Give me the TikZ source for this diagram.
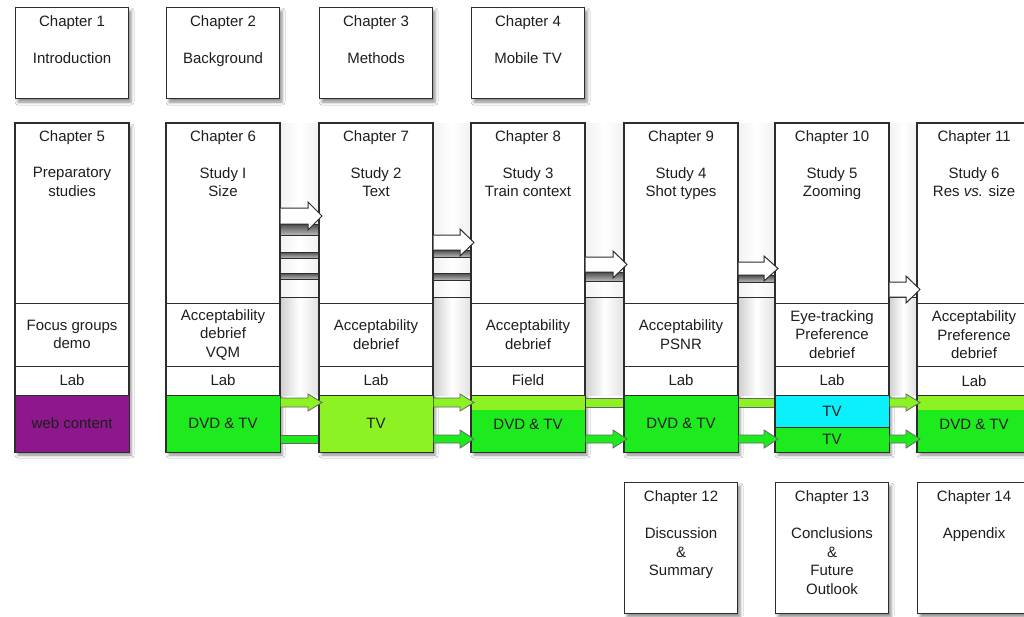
\documentclass[tikz,border=0pt]{standalone}
\usepackage{fontspec}
\setmainfont{Liberation Sans}
\usetikzlibrary{calc,shadows.blur}
\definecolor{webpurple}{RGB}{140,24,140}
\definecolor{dvdgreen}{RGB}{30,235,30}
\definecolor{tvlime}{RGB}{140,242,35}
\definecolor{tvcyan}{RGB}{10,240,252}
\definecolor{edge}{RGB}{45,45,45}
\definecolor{ink}{RGB}{30,30,30}
\tikzset{
  chapbox/.style={draw=edge, line width=1.1pt, fill=white, rectangle, inner sep=0pt, anchor=north west,
    blur shadow={shadow xshift=2.5pt, shadow yshift=-3.5pt, shadow blur radius=3pt, shadow opacity=45}},
  lbl/.style={font=\fontsize{15}{18.5}\selectfont, text=ink, align=center, inner sep=0pt},
  divline/.style={draw=edge, line width=1pt},
  boxedge/.style={draw=edge, line width=1.1pt},
  whitearrow/.style={draw=edge, line width=1pt, fill=white, line join=miter},
  greybar/.style={draw=edge, line width=0.8pt, top color=black!70, bottom color=gray!55},
  limearrow/.style={draw=black!60, line width=0.8pt, fill=tvlime},
  greenarrow/.style={draw=black!60, line width=0.8pt, fill=dvdgreen},
  pillar/.style={left color=gray!11, right color=gray!11, middle color=white},
  lowpillar/.style={left color=gray!38, right color=gray!24, middle color=white},
}
% #1 style, #2 from node, #3 to node, #4 shaft top, #5 shaft bottom, #6 head extra
\newcommand\blockarrow[6]{%
  \draw[#1] ($(#2.east |- 0,#4)+(0.6,0)$) -- ($(#3.west |- 0,#4)+(-11,0)$)
    -- ($(#3.west |- 0,{#4-#6})+(-11,0)$) -- ($(#3.west |- 0,{(#4+#5)/2})+(3,0)$)
    -- ($(#3.west |- 0,{#5+#6})+(-11,0)$) -- ($(#3.west |- 0,#5)+(-11,0)$)
    -- ($(#2.east |- 0,#5)+(0.6,0)$);
}
% #1 style, #2 from node, #3 to node, #4 top, #5 bottom
\newcommand\gapbar[5]{%
  \path[#1] (#2.east |- 0,#4) rectangle (#3.west |- 0,#5);
}
\begin{document}
\begin{tikzpicture}[x=1pt,y=-1pt]
\useasboundingbox (0,0) rectangle (1024,616);
\fill[white] (0,0) rectangle (1024,616);

% top row
\node[chapbox, minimum width=113, minimum height=91] (c1) at (15,7) {};
\node[chapbox, minimum width=113, minimum height=91] (c2) at (166,7) {};
\node[chapbox, minimum width=113, minimum height=91] (c3) at (319,7) {};
\node[chapbox, minimum width=113, minimum height=91] (c4) at (471,7) {};

% middle row
\foreach \n/\x in {5/15,6/166,7/319,8/471,9/624,10/775,11/917}{
  \node[chapbox, minimum width=113, minimum height=328] (c\n) at (\x,123) {};
}

% bottom row
\node[chapbox, minimum width=113, minimum height=131] (c12) at (624,482) {};
\node[chapbox, minimum width=113, minimum height=131] (c13) at (775,482) {};
\node[chapbox, minimum width=113, minimum height=131] (c14) at (917,482) {};

% gaps between the study columns
\foreach \a/\b in {6/7,7/8,8/9,9/10,10/11}{
  \fill[pillar] (c\a.east |- 0,123) rectangle (c\b.west |- 0,395);
  \fill[lowpillar] (c\a.east |- 0,297) rectangle (c\b.west |- 0,395);
  \draw[divline] (c\a.east |- 0,297) -- (c\b.west |- 0,297);
}
\gapbar{greybar}{c6}{c7}{224}{235}
\gapbar{greybar}{c6}{c7}{252}{258}
\gapbar{greybar}{c6}{c7}{273}{279}
\gapbar{greybar}{c7}{c8}{250}{257}
\gapbar{greybar}{c7}{c8}{273}{280}
\gapbar{greybar}{c8}{c9}{272}{281}
\gapbar{greybar}{c9}{c10}{275}{282}
\gapbar{greenarrow}{c6}{c7}{435}{443}
\gapbar{limearrow}{c8}{c9}{398}{407}
\gapbar{limearrow}{c9}{c10}{398}{407}

% coloured bands
\fill[webpurple] (c5.west |- 0,395) rectangle (c5.south east);
\fill[dvdgreen] (c6.west |- 0,395) rectangle (c6.south east);
\fill[tvlime] (c7.west |- 0,395) rectangle (c7.south east);
\fill[tvlime] (c8.west |- 0,395) rectangle (c8.east |- 0,410);
\fill[dvdgreen] (c8.west |- 0,410) rectangle (c8.south east);
\fill[dvdgreen] (c9.west |- 0,395) rectangle (c9.south east);
\fill[tvcyan] (c10.west |- 0,395) rectangle (c10.east |- 0,427);
\fill[dvdgreen] (c10.west |- 0,427) rectangle (c10.south east);
\fill[tvlime] (c11.west |- 0,395) rectangle (c11.east |- 0,410);
\fill[dvdgreen] (c11.west |- 0,410) rectangle (c11.south east);

% dividers and borders
\foreach \n in {5,6,7,8,9,10,11}{
  \draw[divline] (c\n.west |- 0,303) -- (c\n.east |- 0,303);
  \draw[divline] (c\n.west |- 0,366) -- (c\n.east |- 0,366);
  \draw[divline] (c\n.west |- 0,395) -- (c\n.east |- 0,395);
  \draw[boxedge] (c\n.north west) rectangle (c\n.south east);
}
\draw[divline] (c10.west |- 0,427) -- (c10.east |- 0,427);

% block arrows
\blockarrow{whitearrow}{c6}{c7}{208}{224}{6}
\blockarrow{whitearrow}{c7}{c8}{235}{250}{6}
\blockarrow{whitearrow}{c8}{c9}{257}{272}{6}
\blockarrow{whitearrow}{c9}{c10}{262}{275}{6}
\blockarrow{whitearrow}{c10}{c11}{282}{297}{6}
\blockarrow{limearrow}{c6}{c7}{398}{407}{4}
\blockarrow{limearrow}{c7}{c8}{398}{407}{4}
\blockarrow{limearrow}{c10}{c11}{398}{407}{4}
\blockarrow{greenarrow}{c7}{c8}{435}{443}{5}
\blockarrow{greenarrow}{c8}{c9}{435}{443}{5}
\blockarrow{greenarrow}{c9}{c10}{435}{443}{5}
\blockarrow{greenarrow}{c10}{c11}{435}{443}{5}

% texts: top row
\node[lbl, anchor=north] (t1) at ($(c1.north)+(0,8)$) {Chapter 1};
\node[lbl, anchor=north] (s1) at ($(c1.north)+(0,45.5)$) {Introduction};
\node[lbl, anchor=north] (t2) at ($(c2.north)+(0,8)$) {Chapter 2};
\node[lbl, anchor=north] (s2) at ($(c2.north)+(0,45.5)$) {Background};
\node[lbl, anchor=north] (t3) at ($(c3.north)+(0,8)$) {Chapter 3};
\node[lbl, anchor=north] (s3) at ($(c3.north)+(0,45.5)$) {Methods};
\node[lbl, anchor=north] (t4) at ($(c4.north)+(0,8)$) {Chapter 4};
\node[lbl, anchor=north] (s4) at ($(c4.north)+(0,45.5)$) {Mobile TV};

% texts: middle row headers
\node[lbl, anchor=north] (t5) at ($(c5.north)+(0,7)$) {Chapter 5};
\node[lbl, anchor=north] (s5) at ($(c5.north)+(0,44)$) {Preparatory\\studies};
\node[lbl, anchor=north] (t6) at ($(c6.north)+(0,7)$) {Chapter 6};
\node[lbl, anchor=north] (s6) at ($(c6.north)+(0,44)$) {Study I\\Size};
\node[lbl, anchor=north] (t7) at ($(c7.north)+(0,7)$) {Chapter 7};
\node[lbl, anchor=north] (s7) at ($(c7.north)+(0,44)$) {Study 2\\Text};
\node[lbl, anchor=north] (t8) at ($(c8.north)+(0,7)$) {Chapter 8};
\node[lbl, anchor=north] (s8) at ($(c8.north)+(0,44)$) {Study 3\\Train context};
\node[lbl, anchor=north] (t9) at ($(c9.north)+(0,7)$) {Chapter 9};
\node[lbl, anchor=north] (s9) at ($(c9.north)+(0,44)$) {Study 4\\Shot types};
\node[lbl, anchor=north] (t10) at ($(c10.north)+(0,7)$) {Chapter 10};
\node[lbl, anchor=north] (s10) at ($(c10.north)+(0,44)$) {Study 5\\Zooming};
\node[lbl, anchor=north] (t11) at ($(c11.north)+(0,7)$) {Chapter 11};
\node[lbl, anchor=north] (s11) at ($(c11.north)+(0,44)$) {Study 6\\Res \textit{vs.} size};

% texts: method sections
\node[lbl] (m5) at (c5.center |- 0,334.5) {Focus groups\\demo};
\node[lbl] (m6) at (c6.center |- 0,334.5) {Acceptability\\debrief\\VQM};
\node[lbl] (m7) at (c7.center |- 0,334.5) {Acceptability\\debrief};
\node[lbl] (m8) at (c8.center |- 0,334.5) {Acceptability\\debrief};
\node[lbl] (m9) at (c9.center |- 0,334.5) {Acceptability\\PSNR};
\node[lbl] (m10) at (c10.center |- 0,334.5) {Eye-tracking\\Preference\\debrief};
\node[lbl] (m11) at (c11.center |- 0,335) {Acceptability\\Preference\\debrief};

% texts: place
\node[lbl] (l5) at (c5.center |- 0,380.5) {Lab};
\node[lbl] (l6) at (c6.center |- 0,380.5) {Lab};
\node[lbl] (l7) at (c7.center |- 0,380.5) {Lab};
\node[lbl] (l8) at (c8.center |- 0,380.5) {Field};
\node[lbl] (l9) at (c9.center |- 0,380.5) {Lab};
\node[lbl] (l10) at (c10.center |- 0,380.5) {Lab};
\node[lbl] (l11) at (c11.center |- 0,381) {Lab};

% texts: content bands
\node[lbl] (b5) at (c5.center |- 0,423) {web content};
\node[lbl] (b6) at (c6.center |- 0,423) {DVD \& TV};
\node[lbl] (b7) at (c7.center |- 0,423) {TV};
\node[lbl] (b8) at (c8.center |- 0,424) {DVD \& TV};
\node[lbl] (b9) at (c9.center |- 0,423) {DVD \& TV};
\node[lbl] (b10a) at (c10.center |- 0,411.5) {TV};
\node[lbl] (b10b) at (c10.center |- 0,439) {TV};
\node[lbl] (b11) at (c11.center |- 0,424) {DVD \& TV};

% texts: bottom row
\node[lbl, anchor=north] (t12) at ($(c12.north)+(0,8)$) {Chapter 12};
\node[lbl, anchor=north] (s12) at ($(c12.north)+(0,45.5)$) {Discussion\\\&\\Summary};
\node[lbl, anchor=north] (t13) at ($(c13.north)+(0,8)$) {Chapter 13};
\node[lbl, anchor=north] (s13) at ($(c13.north)+(0,45.5)$) {Conclusions\\\&\\Future\\Outlook};
\node[lbl, anchor=north] (t14) at ($(c14.north)+(0,8)$) {Chapter 14};
\node[lbl, anchor=north] (s14) at ($(c14.north)+(0,45.5)$) {Appendix};
\end{tikzpicture}
\end{document}
